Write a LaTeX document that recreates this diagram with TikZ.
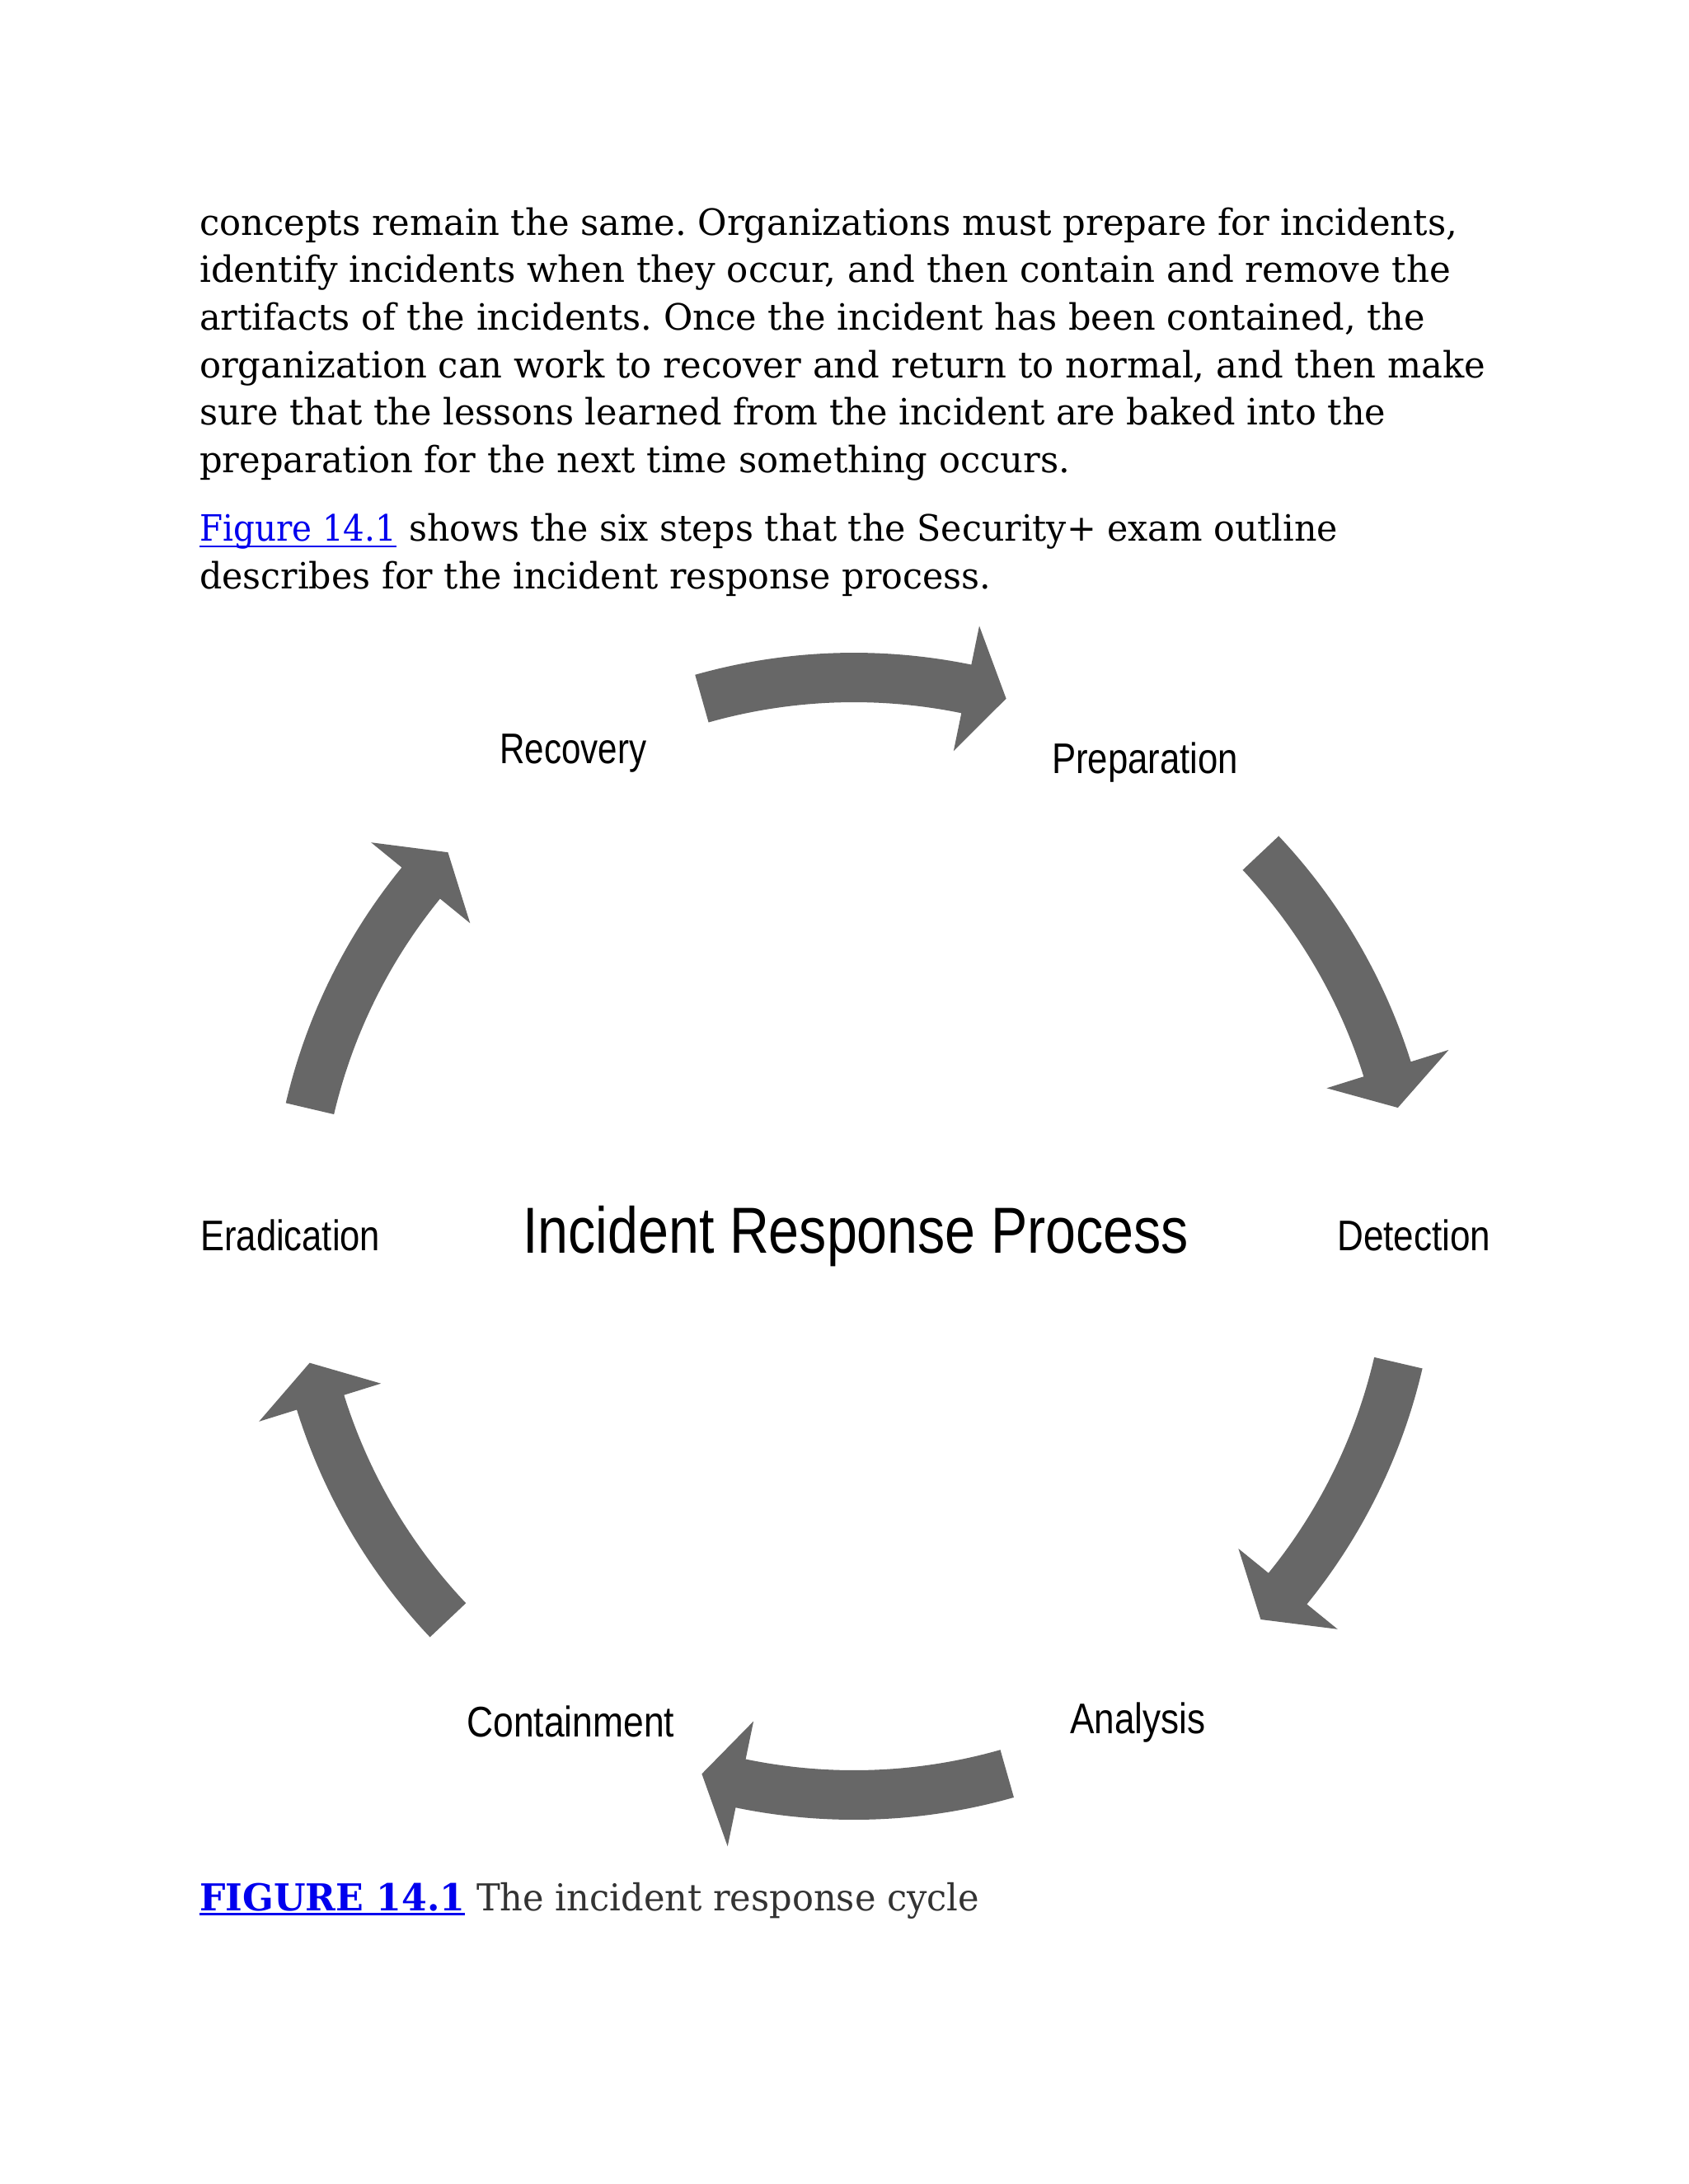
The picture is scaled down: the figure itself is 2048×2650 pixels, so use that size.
\documentclass[tikz,border=0pt]{standalone}
\usepackage{fontspec}
\usepackage{graphicx}
\usetikzlibrary{calc}
\newfontfamily\bodyfont{DejaVu Serif}
\newfontfamily\labelfont{Liberation Sans}
\definecolor{arrowgray}{RGB}{103,103,103}
\definecolor{linkblue}{RGB}{0,0,238}
\definecolor{captiongray}{RGB}{51,51,51}
\frenchspacing
\newlength\fitw
\newcommand\fitto[2]{\settowidth\fitw{#2}\pgfmathsetmacro\fitr{#1/\fitw}\scalebox{\fitr}[1]{#2}}
\newcommand\cycarrow[3]{%
  \fill[arrowgray] ($(C)+(#1:708pt)$) arc[start angle=#1, end angle=#2, radius=708pt]
    -- ($(C)+(#2:756pt)$) -- ($(C)+(#3:678pt)$) -- ($(C)+(#2:601pt)$)
    -- ($(C)+(#2:648pt)$) arc[start angle=#2, end angle=#1, radius=648pt] -- cycle;}
\begin{document}
\begin{tikzpicture}[x=1pt,y=1pt,
  body/.style={anchor=base west, inner sep=0pt, font=\bodyfont\fontsize{44pt}{50pt}\selectfont},
  capt/.style={anchor=base west, inner sep=0pt, font=\bodyfont\fontsize{45pt}{50pt}\selectfont},
  lab/.style={anchor=base west, inner sep=0pt, font=\labelfont\fontsize{52pt}{60pt}\selectfont},
  title/.style={anchor=base west, inner sep=0pt, font=\labelfont\fontsize{79pt}{90pt}\selectfont}]
\fill[white] (0,0) rectangle (2048,-2650);
\useasboundingbox (0,0) rectangle (2048,-2650);

% paragraph text
\node[body] (l1) at (242,-285)   {\fitto{1526}{concepts remain the same. Organizations must prepare for incidents,}};
\node[body] (l2) at (242,-342.7) {\fitto{1518}{identify incidents when they occur, and then contain and remove the}};
\node[body] (l3) at (242,-400.4) {\fitto{1487}{artifacts of the incidents. Once the incident has been contained, the}};
\node[body] (l4) at (242,-458.1) {\fitto{1560}{organization can work to recover and return to normal, and then make}};
\node[body] (l5) at (242,-515.8) {\fitto{1439}{sure that the lessons learned from the incident are baked into the}};
\node[body] (l6) at (242,-573.5) {\fitto{1056}{preparation for the next time something occurs.}};
\node[body, text=linkblue] (figlink) at (242,-656.7) {\fitto{239}{Figure 14.1}};
\node[body] (l7) at (496,-656.7) {\fitto{1127}{shows the six steps that the Security+ exam outline}};
\node[body] (l8) at (242,-714.4) {\fitto{960}{describes for the incident response process.}};
\draw[linkblue, line width=2.5pt] ([yshift=-6.5pt]figlink.base west) -- ([yshift=-6.5pt]figlink.base east);

% cycle arrows
\coordinate (C) at (1036,-1500);
\cycarrow{105.8}{78.4}{74.2}
\cycarrow{43.3}{17.4}{13.3}
\cycarrow{-13.1}{-39.1}{-43.3}
\cycarrow{-74.1}{-101.7}{-105.8}
\cycarrow{-136.6}{-162.7}{-166.9}
\cycarrow{166.8}{140.8}{136.6}

% labels
\node[lab] (recovery) at (606,-926.7) {\fitto{178}{Recovery}};
\node[lab] (preparation) at (1276,-938.3) {\fitto{226}{Preparation}};
\node[lab] (eradication) at (243,-1517.3) {\fitto{218}{Eradication}};
\node[title] (irp) at (634,-1520.7) {\fitto{808}{Incident Response Process}};
\node[lab] (detection) at (1622,-1517.3) {\fitto{186}{Detection}};
\node[lab] (containment) at (566,-2107) {\fitto{252}{Containment}};
\node[lab] (analysis) at (1298,-2103) {\fitto{164}{Analysis}};

% caption
\node[capt, text=linkblue] (figcap) at (242,-2318.3) {\fitto{322}{\bfseries FIGURE 14.1}};
\node[capt, text=captiongray] (captext) at (578,-2318.3) {\fitto{610}{The incident response cycle}};
\draw[linkblue, line width=2.5pt] ([yshift=-4pt]figcap.base west) -- ([yshift=-4pt]figcap.base east);
\end{tikzpicture}
\end{document}
